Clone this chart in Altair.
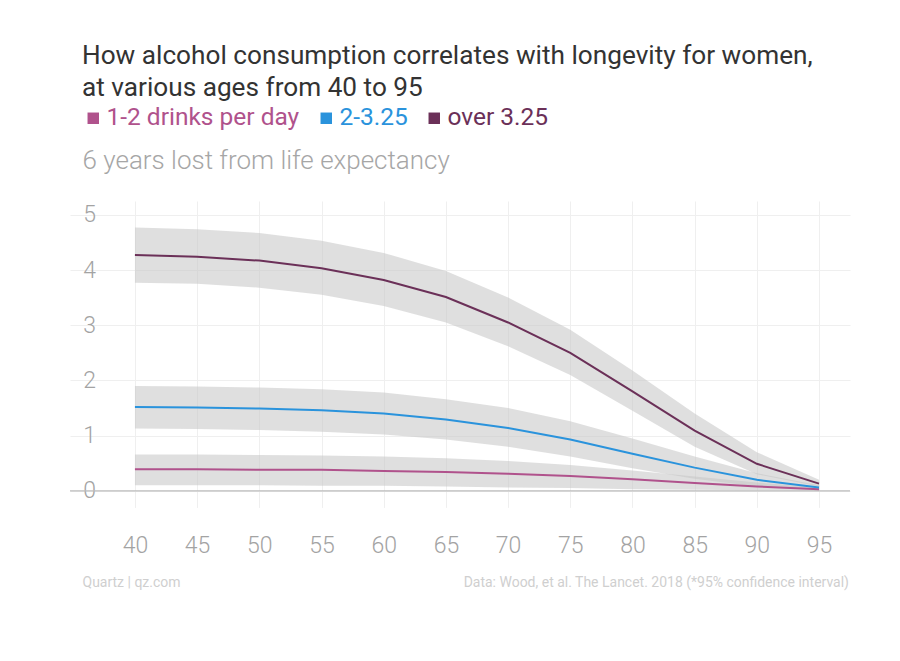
import altair as alt
import pandas as pd

ages = [40, 45, 50, 55, 60, 65, 70, 75, 80, 85, 90, 95]
series_names = ["1-2 drinks per day", "2-3.25", "over 3.25"]
series_colors = ["#b0528c", "#2a93dc", "#6b3058"]

light_mid = [0.39, 0.39, 0.38, 0.38, 0.36, 0.34, 0.31, 0.27, 0.21, 0.14, 0.08, 0.03]
light_lo = [0.10, 0.10, 0.10, 0.09, 0.09, 0.08, 0.06, 0.05, 0.03, 0.02, 0.01, 0.00]
light_hi = [0.66, 0.66, 0.65, 0.64, 0.62, 0.59, 0.54, 0.47, 0.37, 0.26, 0.15, 0.06]

mid_mid = [1.52, 1.51, 1.49, 1.46, 1.40, 1.29, 1.14, 0.93, 0.67, 0.42, 0.20, 0.06]
mid_lo = [1.13, 1.12, 1.10, 1.07, 1.02, 0.93, 0.80, 0.62, 0.41, 0.22, 0.08, 0.02]
mid_hi = [1.90, 1.89, 1.87, 1.84, 1.78, 1.66, 1.50, 1.26, 0.95, 0.62, 0.32, 0.10]

heavy_mid = [4.27, 4.24, 4.17, 4.03, 3.82, 3.51, 3.05, 2.50, 1.80, 1.09, 0.49, 0.13]
heavy_lo = [3.77, 3.75, 3.68, 3.55, 3.35, 3.05, 2.62, 2.10, 1.45, 0.80, 0.30, 0.08]
heavy_hi = [4.77, 4.74, 4.67, 4.53, 4.31, 3.98, 3.50, 2.92, 2.18, 1.40, 0.70, 0.20]

title_lines = ["How alcohol consumption correlates with longevity for women,",
               "at various ages from 40 to 95"]
y_title = "6 years lost from life expectancy"
footer_left = "Quartz | qz.com"
footer_right = "Data: Wood, et al. The Lancet. 2018 (*95% confidence interval)"

rows = []
for name, mids, los, his in [
    (series_names[0], light_mid, light_lo, light_hi),
    (series_names[1], mid_mid, mid_lo, mid_hi),
    (series_names[2], heavy_mid, heavy_lo, heavy_hi),
]:
    for a, m, lo, hi in zip(ages, mids, los, his):
        rows.append({"age": a, "series": name, "mid": m, "lo": lo, "hi": hi})
df = pd.DataFrame(rows)

FONT = "Roboto"
FOOT_FONT = "Roboto"
xscale = alt.Scale(domain=[34.78, 97.49], nice=False, zero=False)
yscale = alt.Scale(domain=[-0.3, 5.25], nice=False, zero=False)

x_axis = alt.Axis(values=ages, grid=True, gridColor="#efefef", domain=False, ticks=False,
                  labelFontSize=23, labelColor="#a3a3a3", labelFont=FONT, labelFontWeight=300,
                  labelPadding=27, title=footer_left, titleFont=FOOT_FONT,
                  titleFontSize=14, titleFontWeight="normal", titleColor="#cfcfcf",
                  titleAnchor="start", titleAlign="left", titleX=12, titleY=75,
                  titleBaseline="middle")
y_axis = alt.Axis(values=[0, 1, 2, 3, 4, 5], format="d", grid=True, gridColor="#efefef",
                  domain=False, ticks=False, offset=-19, labelPadding=0, labelAlign="center",
                  labelFontSize=23, labelColor="#a3a3a3", labelFont=FONT, labelFontWeight=300,
                  title=y_title, titleAngle=0, titleAlign="left", titleBaseline="middle",
                  titleX=-7, titleY=-40, titleFontSize=26, titleFont=FONT,
                  titleFontWeight=300, titleColor="#a6a6a6")

base = alt.Chart(df)
band = base.mark_area(color="#c4c4c4", opacity=0.55).encode(
    x=alt.X("age:Q", scale=xscale, axis=x_axis),
    y=alt.Y("lo:Q", scale=yscale, axis=y_axis),
    y2="hi:Q",
    detail="series:N",
)
zero = alt.Chart(pd.DataFrame({"y": [0]})).mark_rule(color="#bcbcbc", strokeWidth=1.2).encode(
    y=alt.Y("y:Q", scale=yscale)
)
lines = base.mark_line(strokeWidth=2).encode(
    x=alt.X("age:Q", scale=xscale),
    y=alt.Y("mid:Q", scale=yscale),
    color=alt.Color("series:N", scale=alt.Scale(domain=series_names, range=series_colors),
                    legend=alt.Legend(orient="none", legendX=11, legendY=-95,
                                      direction="horizontal", title=None,
                                      symbolType="square", symbolSize=12,
                                      symbolStrokeWidth=8, symbolOpacity=1,
                                      labelFontSize=24.5, labelFont=FONT, labelLimit=0,
                                      labelColor={"expr": "scale('color', datum.value)"},
                                      labelOffset=1, columnPadding=8)),
)
credit = alt.Chart(pd.DataFrame({"t": [footer_right]})).mark_text(
    align="right", baseline="middle", font=FOOT_FONT, fontSize=14,
    color="#cfcfcf").encode(x=alt.value(779), y=alt.value(382), text="t:N")

chart = alt.layer(band, zero, lines, credit).properties(
    width=780, height=306.4,
    background="white",
    title=alt.Title(title_lines, anchor="start", frame="group", dx=12, offset=5,
                    fontSize=26.2, fontWeight="normal", color="#333333", font=FONT,
                    lineHeight=32),
    autosize=alt.AutoSizeParams(type="none"),
    padding={"left": 62, "top": 193, "right": 30, "bottom": 140},
).configure_view(strokeWidth=0, stroke=None)

chart.save("out.html", embed_options={"renderer": "svg", "actions": False})
